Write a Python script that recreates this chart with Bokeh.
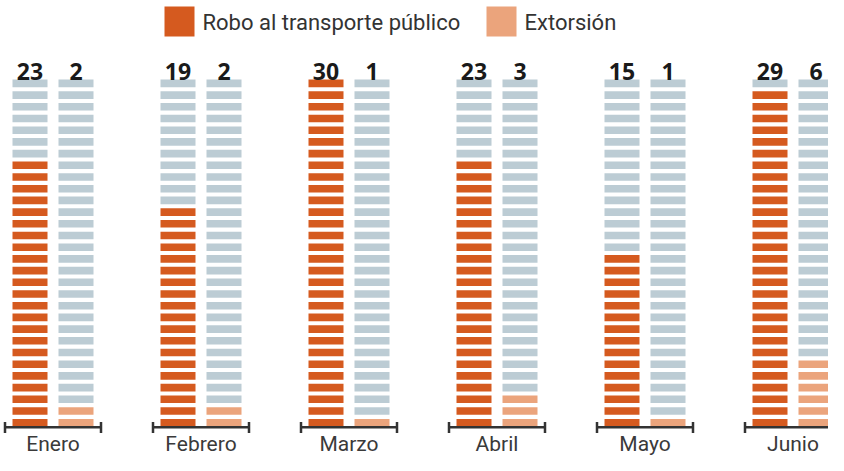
from bokeh.plotting import figure
from bokeh.models import Range1d, ColumnDataSource
from bokeh.core.properties import value
from bokeh.embed import file_html
from bokeh.resources import INLINE

months = ["Enero", "Febrero", "Marzo", "Abril", "Mayo", "Junio"]
robo = [23, 19, 30, 23, 15, 29]
extorsion = [2, 2, 1, 3, 1, 6]
total_slots = 30
series_names = ["Robo al transporte público", "Extorsión"]

RED = "#D55A1F"
ORANGE = "#EBA47C"
GRAY = "#BCCCD4"

W, H = 828, 455
PX_X = 148.0          # px per month
PX_Y = 11.70          # px per slot
x0 = -52.5 / PX_X
y_base_fig = 426.0    # fig px (from top) of slot 0 bottom
y0 = -(H - y_base_fig) / PX_Y

def dx(px):  # figure px (from left) -> data x
    return x0 + px / PX_X

def dy(py):  # figure px (from top) -> data y
    return (y_base_fig - py) / PX_Y

p = figure(width=W, height=H, output_backend="svg", toolbar_location=None,
           x_range=Range1d(x0, x0 + W / PX_X), y_range=Range1d(y0, y0 + H / PX_Y),
           min_border=0, min_border_left=0, min_border_right=0,
           min_border_top=0, min_border_bottom=0)
p.axis.visible = False
p.grid.visible = False
p.outline_line_color = None
p.background_fill_color = "white"

off = 23 / PX_X
colw = 35 / PX_X
seg_h = 7.6 / PX_Y

xs, ys, cols = [], [], []
for i, m in enumerate(months):
    for j, (val, c) in enumerate([(robo[i], RED), (extorsion[i], ORANGE)]):
        cx = i + (-off if j == 0 else off)
        for k in range(total_slots):
            xs.append(cx)
            ys.append(k + seg_h / 2)
            cols.append(c if k < val else GRAY)
p.rect(x="x", y="y", width=colw, height=seg_h, fill_color="c", line_color=None,
       source=ColumnDataSource(dict(x=xs, y=ys, c=cols)))

# value labels
lx, lt = [], []
for i in range(len(months)):
    lx += [i - off, i + off]
    lt += [str(robo[i]), str(extorsion[i])]
ly = [dy(70.5)] * len(lx)
p.text(x=lx, y=ly, text=lt, text_font=value("Open Sans"), text_font_style="bold",
       text_font_size="23px", text_color="#1a1a1a", text_align="center",
       text_baseline="middle")

# baseline axes per month
half = 48 / PX_X
ay = dy(426.8)
mx = list(range(len(months)))
p.segment(x0=[i - half for i in mx], y0=[ay] * 6, x1=[i + half for i in mx], y1=[ay] * 6,
          line_color="#333333", line_width=2.5)
cap_top, cap_bot = dy(421.5), dy(432.5)
p.segment(x0=[i - half for i in mx] + [i + half for i in mx], y0=[cap_top] * 12,
          x1=[i - half for i in mx] + [i + half for i in mx], y1=[cap_bot] * 12,
          line_color="#333333", line_width=2.5)

# month labels
p.text(x=mx, y=[dy(443.5)] * 6, text=months, text_font=value("Roboto"),
       text_font_size="21px", text_color="#3a3a3a", text_align="center",
       text_baseline="middle")

# legend
leg_sq_x = [dx(179), dx(501)]
leg_sq_y = [dy(21)] * 2
p.rect(x=leg_sq_x, y=leg_sq_y, width=30, height=30, width_units="screen",
       height_units="screen", fill_color=[RED, ORANGE], line_color=None)
p.text(x=[dx(202), dx(524)], y=[dy(22)] * 2, text=series_names,
       text_font=value("Roboto"), text_font_size="22px", text_color="#333333",
       text_align="left", text_baseline="middle")

open("out.html", "w").write(file_html(p, INLINE))
